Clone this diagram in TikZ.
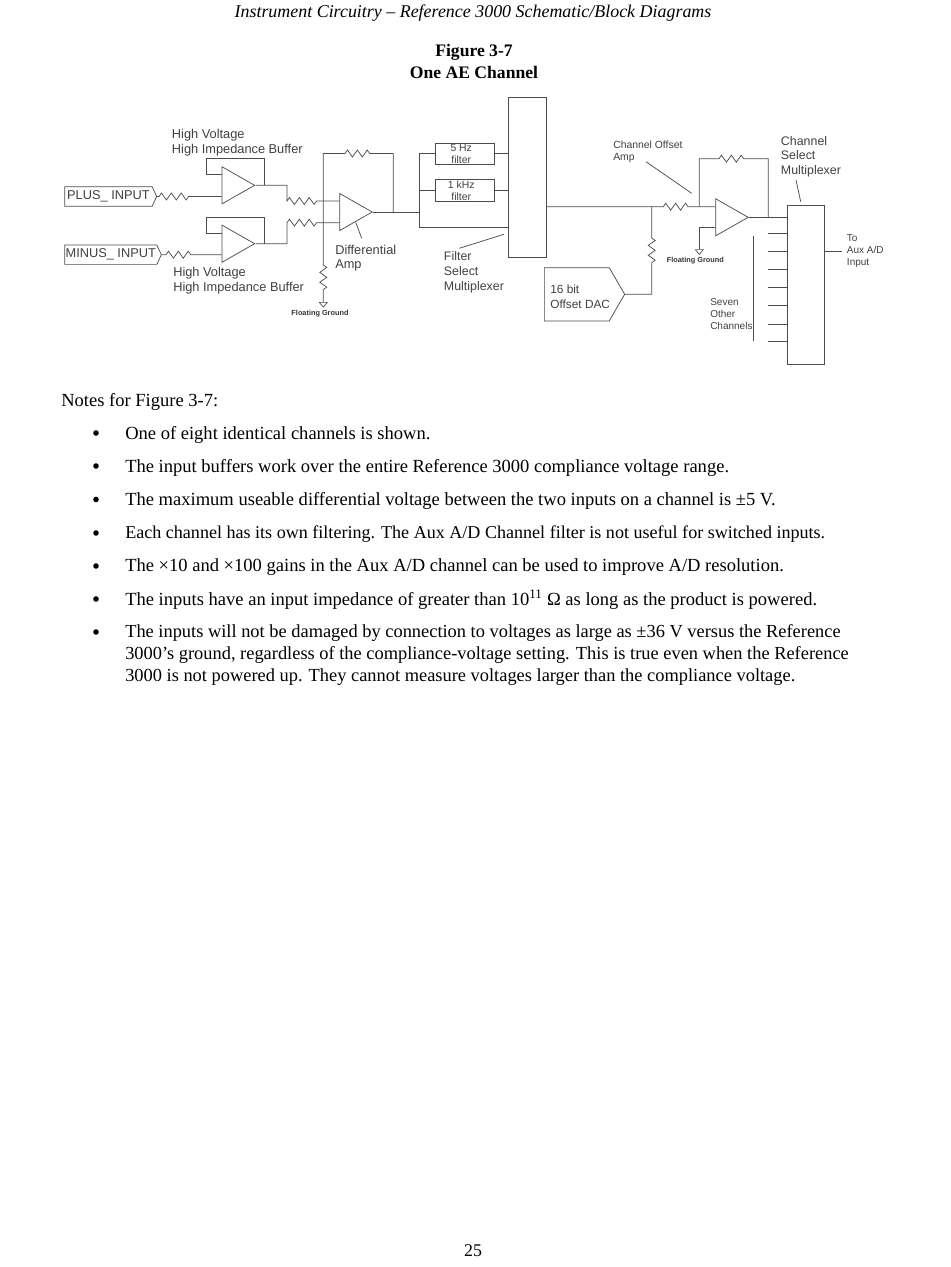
\documentclass[tikz,border=0pt]{standalone}
\usepackage{fontspec}
\setmainfont{Liberation Serif}
\setsansfont{Liberation Sans}
\usetikzlibrary{positioning,calc,shapes.geometric,shapes.symbols,decorations.pathmorphing}
\tikzset{
	wire/.style={draw=black!70, line width=0.55pt},
	res/.style={decoration={zigzag,segment length=7.4pt,amplitude=2.6pt}},
	ampbox/.style={draw=black!70, line width=0.55pt, shape=isosceles triangle, isosceles triangle stretches, shape border rotate=0, inner sep=0pt, anchor=lower side, minimum width=27.8pt, minimum height=24.4pt},
	blockbox/.style={draw=black!70, line width=0.55pt, inner sep=0pt, anchor=north west},
	portbox/.style={draw=black!70, line width=0.55pt, shape=signal, signal to=east, signal pointer angle=130, inner sep=0pt, anchor=west, font=\sffamily\fontsize{9.6}{11}\selectfont, text=black!75},
	gnd/.style={draw=black!70, line width=0.5pt, shape=isosceles triangle, isosceles triangle stretches, shape border rotate=270, inner sep=0pt, minimum width=6pt, minimum height=3.6pt, anchor=lower side},
	lbl/.style={anchor=west, inner sep=0pt, align=left, yshift=-0.75pt, text=black!75, font=\sffamily\fontsize{9.3}{11}\selectfont},
	smalllbl/.style={anchor=west, inner sep=0pt, align=left, yshift=-0.75pt, text=black!75, font=\sffamily\fontsize{7.5}{9}\selectfont},
	tinylbl/.style={inner sep=0pt, text=black!80, font=\sffamily\bfseries\fontsize{5.5}{6}\selectfont},
	filterlbl/.style={inner sep=0pt, align=center, text=black!75, font=\sffamily\fontsize{7.8}{9}\selectfont},
	note/.style={anchor=west, inner sep=0pt, align=left, font=\fontsize{13.9}{16.5}\selectfont},
	bulletmark/.style={shape=circle, fill=black, inner sep=0pt, minimum size=4.2pt},
}
\begin{document}
\begin{tikzpicture}[x=0.75pt, y=-0.75pt]
	\useasboundingbox (0,0) rectangle (950,1267);

	\node[inner sep=0pt, font=\itshape\fontsize{13.45}{16}\selectfont] (header) at (473,13.5) {Instrument Circuitry -- Reference 3000 Schematic/Block Diagrams};
	\node[inner sep=0pt, align=center, font=\bfseries\fontsize{13.2}{16.5}\selectfont] (title) at (474,61) {Figure 3-7\\One AE Channel};

	% inputs and buffers
	\node[portbox, minimum height=14.5pt, minimum width=69pt] (plus) at (64.3,196.5) {PLUS\_ INPUT};
	\node[portbox, minimum height=14.5pt, minimum width=72.5pt] (minus) at (64.3,254.7) {MINUS\_ INPUT};
	\node[ampbox] (buf1) at (221.7,185.3) {};
	\node[ampbox] (buf2) at (221.7,243.7) {};
	\node[ampbox] (diff) at (339.3,212) {};
	\node[lbl, font=\sffamily\fontsize{9.6}{11.2}\selectfont] (buf1lbl) at (171.7,141.5) {High Voltage\\High Impedance Buffer};
	\node[lbl, font=\sffamily\fontsize{9.6}{11.2}\selectfont] (buf2lbl) at (173,279.7) {High Voltage\\High Impedance Buffer};
	\node[lbl, font=\sffamily\fontsize{9.6}{11}\selectfont] (difflbl) at (335,257.3) {Differential\\Amp};
	\node[gnd] (gnd1) at (323.3,302) {};
	\node[tinylbl] (gnd1lbl) at (320,313.5) {Floating Ground};

	% filters and filter mux
	\node[blockbox, minimum width=44.3pt, minimum height=16pt] (f5) at (435.3,142.7) {};
	\node[filterlbl] (f5lbl) at ($(f5.center)+(-4,0)$) {5 Hz\\filter};
	\node[blockbox, minimum width=44.3pt, minimum height=16.3pt] (f1k) at (435.3,179.3) {};
	\node[filterlbl] (f1klbl) at ($(f1k.center)+(-4,0)$) {1 kHz\\filter};
	\node[blockbox, minimum width=28pt, minimum height=119.7pt] (fmux) at (508.3,97.3) {};
	\node[lbl] (fmuxlbl) at (443.7,271.2) {Filter\\Select\\Multiplexer};

	% offset stage
	\node[portbox, minimum height=40pt, minimum width=60.2pt, signal pointer angle=120] (dac) at (544,294.3) {};
	\node[lbl, font=\sffamily\fontsize{8.9}{11}\selectfont] (daclbl) at (550,296) {16 bit\\Offset DAC};
	\node[ampbox] (off) at (715.3,217.3) {};
	\node[gnd] (gnd2) at (699.3,249.3) {};
	\node[tinylbl] (gnd2lbl) at (695.3,260.2) {Floating Ground};
	\node[smalllbl, font=\sffamily\fontsize{7.8}{9}\selectfont] (offlbl) at (613,150.5) {Channel Offset\\Amp};

	% channel mux
	\node[blockbox, minimum width=28pt, minimum height=119.2pt] (cmux) at (786.7,205.3) {};
	\node[lbl] (cmuxlbl) at (780.7,155.5) {Channel\\Select\\Multiplexer};
	\node[smalllbl] (seven) at (710,313.2) {Seven\\Other\\Channels};
	\node[smalllbl] (toaux) at (846.7,249.7) {To\\Aux A/D\\Input};

	% buffer wiring
	\draw[wire, res] (plus.east) -- (159,196.5) decorate {-- (190,196.5)} -- (buf1.lower side |- 0,196.5);
	\draw[wire, res] (minus.east) -- (166,254.7) decorate {-- (195,254.7)} -- (buf2.lower side |- 0,254.7);
	\draw[wire] (buf1.lower side |- 0,174.3) -- (206,174.3) |- (264.3,158.7) -- (264.3,185.3);
	\draw[wire] (buf2.lower side |- 0,233.3) -- (206,233.3) |- (264.3,217.3) -- (264.3,243.7);
	\draw[wire, res] (buf1.apex) -- (287,185.3) -- (287,201) decorate {-- (317,201)} -- (diff.lower side |- 0,201);
	\draw[wire, res] (buf2.apex) -- (287,243.7) -- (287,222.7) decorate {-- (317,222.7)} -- (diff.lower side |- 0,222.7);

	% differential amp wiring
	\draw[wire, res] (323.3,201) -- (323.3,153.5) -- (345,153.5) decorate {-- (371,153.5)} -- (393.3,153.5) -- (393.3,212);
	\draw[wire, res] (323.3,201) -- (323.3,265) decorate {-- (323.3,292)} -- (gnd1.lower side);
	\draw[wire] (diff.apex) -- (419.7,212);
	\draw[wire] (355.7,222.3) -- (361.7,238.3);

	% filter wiring
	\draw[wire] (419.7,153.3) -- (f5.west |- 0,153.3);
	\draw[wire] (419.7,190.3) -- (f1k.west |- 0,190.3);
	\draw[wire] (419.7,153.3) |- (fmux.west |- 0,227.7);
	\draw[wire] (f5.east |- 0,153.3) -- (fmux.west |- 0,153.3);
	\draw[wire] (f1k.east |- 0,190.3) -- (fmux.west |- 0,190.3);
	\draw[wire] (459.3,248.3) -- (504,234.3);

	% offset wiring
	\draw[wire, res] (fmux.east |- 0,206.7) -- (663.3,206.7) decorate {-- (692.7,206.7)} -- (off.lower side |- 0,206.7);
	\draw[wire, res] (651.7,206.7) -- (651.7,238) decorate {-- (651.7,266)} -- (651.7,294.3) -- (dac.east);
	\draw[wire, res] (699.3,206.7) -- (699.3,158.7) -- (719,158.7) decorate {-- (745.5,158.7)} -- (768.3,158.7) -- (768.3,217.3);
	\draw[wire] (off.apex) -- (cmux.west |- off.apex);
	\draw[wire] (off.lower side |- 0,227.7) -- (699.3,227.7) -- (gnd2.lower side);
	\draw[wire] (646,161.7) -- (691.7,193.3);

	% channel mux wiring
	\foreach \y in {233,251.7,269,287.7,305.3,324,341.3}
		\draw[wire] (768.3,\y) -- (cmux.west |- 0,\y);
	\draw[wire] (753.7,236) -- (753.7,341);
	\draw[wire] (796,180) -- (800.7,201.7);
	\draw[wire] (cmux.east |- 0,251.7) -- (841.7,251.7);

	% notes
	\node[note] (notes) at (61,401.5) {Notes for Figure 3-7:};
	\node[note] (n1) at (125,434.5) {One of eight identical channels is shown.};
	\node[note] (n2) at (125,467.5) {The input buffers work over the entire Reference 3000 compliance voltage range.};
	\node[note] (n3) at (125,501) {The maximum useable differential voltage between the two inputs on a channel is ±5 V.};
	\node[note, font=\fontsize{13.55}{16.5}\selectfont] (n4) at (125,534.5) {Each channel has its own filtering. The Aux A/D Channel filter is not useful for switched inputs.};
	\node[note] (n5) at (125,567.5) {The ×10 and ×100 gains in the Aux A/D channel can be used to improve A/D resolution.};
	\node[note] (n6) at (125,599.5) {The inputs have an input impedance of greater than 10\textsuperscript{11} Ω as long as the product is powered.};
	\node[note, font=\fontsize{13.8}{16.5}\selectfont] (n7) at (125,655) {The inputs will not be damaged by connection to voltages as large as ±36 V versus the Reference\\3000’s ground, regardless of the compliance-voltage setting. This is true even when the Reference\\3000 is not powered up. They cannot measure voltages larger than the compliance voltage.};
	\foreach \y in {433,466,499.5,533,566,599,632}
		\node[bulletmark] at (96,\y) {};
	\node[inner sep=0pt, font=\fontsize{13.4}{16}\selectfont] (page) at (473,1251) {25};
\end{tikzpicture}
\end{document}
